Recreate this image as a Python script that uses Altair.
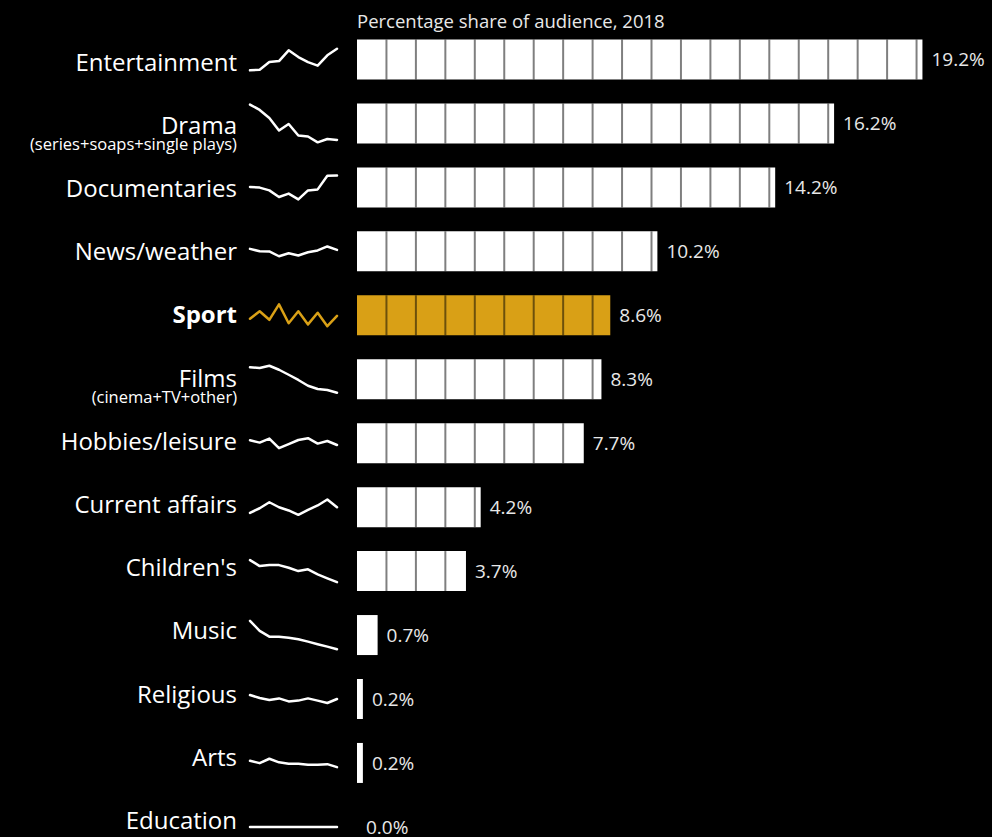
import altair as alt
import pandas as pd

GOLD = "#D9A016"
FONT = "Open Sans"

categories = ["Entertainment", "Drama", "Documentaries", "News/weather", "Sport", "Films",
              "Hobbies/leisure", "Current affairs", "Children's", "Music", "Religious",
              "Arts", "Education"]
sublabels = ["", "(series+soaps+single plays)", "", "", "", "(cinema+TV+other)",
             "", "", "", "", "", "", ""]
shares_2018 = [19.2, 16.2, 14.2, 10.2, 8.6, 8.3, 7.7, 4.2, 3.7, 0.7, 0.2, 0.2, 0.0]
years = [2009, 2010, 2011, 2012, 2013, 2014, 2015, 2016, 2017, 2018]

trend_entertainment = [18.12, 18.15, 18.53, 18.58, 19.12, 18.78, 18.53, 18.35, 18.87, 19.20]
trend_drama = [17.97, 17.70, 17.30, 16.67, 17.00, 16.42, 16.37, 16.08, 16.25, 16.20]
trend_documentaries = [13.62, 13.59, 13.45, 13.12, 13.29, 13.00, 13.45, 13.50, 14.18, 14.20]
trend_news = [10.25, 10.13, 10.12, 9.88, 10.03, 9.92, 10.08, 10.17, 10.37, 10.20]
trend_sport = [8.45, 8.83, 8.40, 9.17, 8.23, 8.83, 8.17, 8.75, 8.08, 8.60]
trend_films = [9.57, 9.54, 9.65, 9.45, 9.20, 8.94, 8.65, 8.49, 8.44, 8.30]
trend_hobbies = [7.94, 7.82, 8.02, 7.54, 7.74, 7.95, 8.04, 7.77, 7.90, 7.70]
trend_current = [3.92, 4.15, 4.45, 4.20, 4.04, 3.82, 4.07, 4.29, 4.59, 4.20]
trend_children = [4.80, 4.50, 4.55, 4.55, 4.42, 4.25, 4.34, 4.09, 3.89, 3.70]
trend_music = [2.12, 1.62, 1.33, 1.32, 1.28, 1.20, 1.08, 0.95, 0.83, 0.70]
trend_religious = [0.40, 0.25, 0.15, 0.23, 0.08, 0.12, 0.23, 0.12, 0.00, 0.20]
trend_arts = [0.52, 0.40, 0.62, 0.44, 0.37, 0.37, 0.32, 0.32, 0.35, 0.20]
trend_education = [0.00, 0.00, 0.00, 0.00, 0.00, 0.00, 0.00, 0.00, 0.00, 0.00]

trends = [trend_entertainment, trend_drama, trend_documentaries, trend_news, trend_sport,
          trend_films, trend_hobbies, trend_current, trend_children, trend_music,
          trend_religious, trend_arts, trend_education]

rows = []
for idx, (cat, sub, share, trend) in enumerate(zip(categories, sublabels, shares_2018, trends)):
    rows.append({"kind": "bar", "cat": cat, "sub": sub, "share": share, "zero": 0, "idx": idx})
    for yr, v in zip(years, trend):
        rows.append({"kind": "spark", "cat": cat, "year": yr, "v": v})
    k = 1
    while k < share:
        rows.append({"kind": "sep", "cat": cat, "pos": k})
        k += 1
df = pd.DataFrame(rows)

n = len(categories) - 1
share_scale = alt.Scale(domain=[0, 20], range=[357, 946])
year_scale = alt.Scale(domain=[2009, 2018], range=[250, 337])
dev_scale = alt.Scale(domain=[-1, 1])
label_scale = alt.Scale(domain=[0, n], range=[31, 22])
sub_scale = alt.Scale(domain=[0, n], range=[47.5, 38.5])

is_sport = alt.datum.cat == "Sport"
fill = alt.when(is_sport).then(alt.value(GOLD)).otherwise(alt.value("white"))

label = alt.Chart().mark_text(
    font=FONT, fontSize=24, color="white", align="right", baseline="alphabetic"
).encode(
    x=alt.value(237), y=alt.Y("idx:Q", scale=label_scale, axis=None), text="cat:N"
).transform_filter("datum.kind === 'bar' && datum.cat !== 'Sport'")

label_bold = alt.Chart().mark_text(
    font=FONT, fontSize=24, fontWeight="bold", color="white", align="right", baseline="alphabetic"
).encode(
    x=alt.value(237), y=alt.Y("idx:Q", scale=label_scale, axis=None), text="cat:N"
).transform_filter("datum.kind === 'bar' && datum.cat === 'Sport'")

sub_label = alt.Chart().mark_text(
    font=FONT, fontSize=16.5, color="white", align="right", baseline="alphabetic"
).encode(
    x=alt.value(237), y=alt.Y("idx:Q", scale=sub_scale, axis=None), text="sub:N"
).transform_filter("datum.kind === 'bar' && datum.sub !== ''")

spark = alt.Chart().mark_line(strokeWidth=2.5, strokeJoin="round", strokeCap="round").encode(
    x=alt.X("year:Q", scale=year_scale, axis=None),
    y=alt.Y("dev:Q", scale=dev_scale, axis=None),
    color=fill,
).transform_filter("datum.kind === 'spark'").transform_joinaggregate(
    vmin="min(v)", vmax="max(v)", groupby=["cat"]
).transform_calculate(dev="datum.v - (datum.vmin + datum.vmax) / 2")

bar = alt.Chart().mark_rect().encode(
    x=alt.X("zero:Q", scale=share_scale, axis=None),
    x2="share:Q",
    y=alt.value(0), y2=alt.value(40),
    color=fill,
).transform_filter("datum.kind === 'bar' && datum.share > 0")

sep = alt.Chart().mark_rule(color="black", opacity=0.5, strokeWidth=2).encode(
    x=alt.X("pos:Q", scale=share_scale, axis=None),
    y=alt.value(0), y2=alt.value(40),
).transform_filter("datum.kind === 'sep'")

value_text = alt.Chart().mark_text(
    font=FONT, fontSize=19, color="#e8e8e8", align="left", baseline="alphabetic", dx=9
).encode(
    x=alt.X("share:Q", scale=share_scale, axis=None),
    y=alt.value(26.8),
    text="lab:N",
).transform_filter("datum.kind === 'bar'").transform_calculate(
    lab="format(datum.share, '.1f') + '%'")

title = alt.Chart().mark_text(
    text="Percentage share of audience, 2018", font=FONT, fontSize=18.5, color="#e8e8e8",
    align="left", baseline="alphabetic"
).encode(x=alt.value(357), y=alt.value(-12)).transform_filter(
    "datum.kind === 'bar' && datum.cat === 'Entertainment'")

layered = alt.layer(label, label_bold, sub_label, spark, bar, sep, value_text, title
                    ).resolve_scale(x="independent", y="independent"
                    ).properties(width=992, height=40)

chart = layered.facet(
    data=df,
    row=alt.Row("cat:N", sort=categories, header=alt.Header(labels=False, title=None)),
    spacing=23.95,
    bounds="flush",
).properties(
    padding={"left": 0, "top": 12.5, "right": 0, "bottom": 0},
    background="black",
).configure_view(stroke=None)

chart.save("out.html", embed_options={"renderer": "svg", "actions": False})
